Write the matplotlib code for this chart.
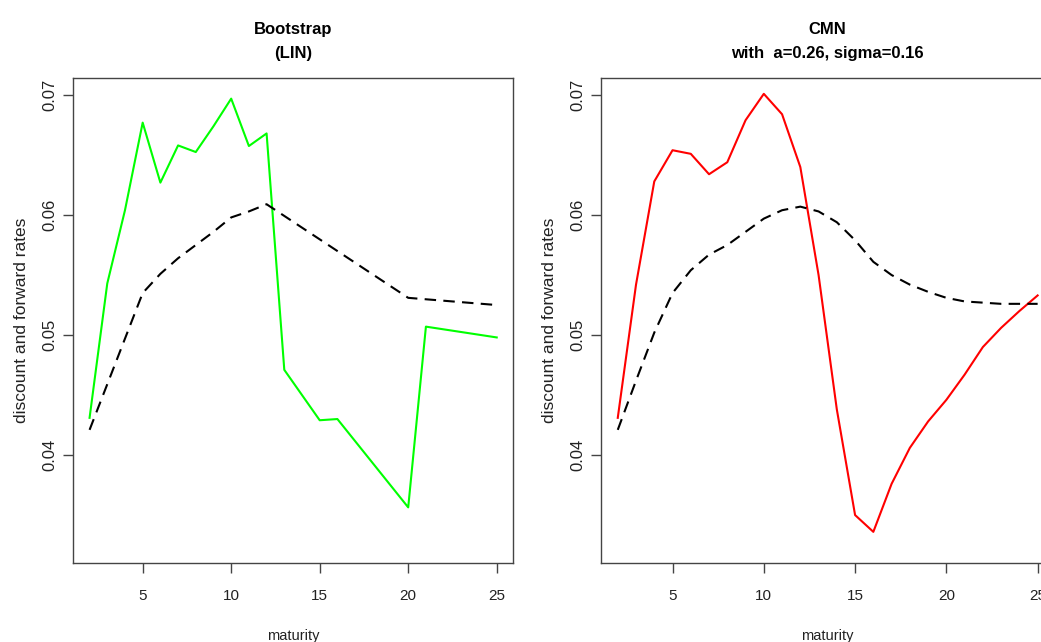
import matplotlib
matplotlib.use("Agg")
from matplotlib import pyplot as plt

plt.rcParams["font.family"] = ["Liberation Sans", "DejaVu Sans"]

# Bootstrap (LIN): forward rates and discount rates by maturity
boot_fwd_x = [2, 3, 4, 5, 6, 7, 8, 9, 10, 11, 12, 13, 15, 16, 20, 21, 25]
boot_fwd_y = [0.0431, 0.0543, 0.0604, 0.0677, 0.0627, 0.0658, 0.06525, 0.0674,
              0.0697, 0.06575, 0.0668, 0.0471, 0.0429, 0.0430, 0.03564, 0.0507, 0.0498]
boot_disc_x = [2, 5, 6, 7, 8, 9, 10, 11, 12, 20, 25]
boot_disc_y = [0.0421, 0.0535, 0.0551, 0.0564, 0.0575, 0.0586, 0.0598, 0.0603,
               0.0609, 0.0531, 0.0525]

# CMN fit (a=0.26, sigma=0.16)
maturity = list(range(2, 26))
cmn_fwd = [0.0431, 0.0542, 0.0628, 0.0654, 0.0651, 0.0634, 0.0644, 0.0679,
           0.0701, 0.0684, 0.0640, 0.0550, 0.0438, 0.0350, 0.0336, 0.0376,
           0.0406, 0.0428, 0.0446, 0.0467, 0.0490, 0.0506, 0.0520, 0.0533]
cmn_disc = [0.0421, 0.0462, 0.0502, 0.0535, 0.0554, 0.0567, 0.0575, 0.0586,
            0.0597, 0.0604, 0.0607, 0.0603, 0.0594, 0.0579, 0.0561, 0.0550,
            0.0542, 0.0536, 0.0531, 0.0528, 0.0527, 0.0526, 0.0526, 0.0526]

x_ticks = [5, 10, 15, 20, 25]
y_ticks = [0.04, 0.05, 0.06, 0.07]
y_tick_labels = ["0.04", "0.05", "0.06", "0.07"]

fig = plt.figure(figsize=(10.41, 6.42), dpi=100)
ax_left = fig.add_axes([0.0704, 0.1226, 0.4224, 0.7563])
ax_right = fig.add_axes([0.5773, 0.1226, 0.4356, 0.7563])

dash = (5.5, 3.5)


def style_axes(ax, title):
    ax.set_xlim(1.08, 25.92)
    ax.set_ylim(0.03098, 0.07144)
    ax.set_xticks(x_ticks)
    ax.set_xticklabels([str(t) for t in x_ticks], fontsize=11)
    ax.set_yticks(y_ticks)
    ax.set_yticklabels(y_tick_labels, rotation=90, va="center", fontsize=12)
    ax.tick_params(axis="both", direction="out", length=7.2, width=1.0,
                   color="#444444", labelcolor="#222222")
    ax.tick_params(axis="x", pad=11)
    ax.tick_params(axis="y", pad=4)
    for s in ax.spines.values():
        s.set_color("#444444")
        s.set_linewidth(1.0)
    ax.set_xlabel("maturity", fontsize=10.5, color="#222222", labelpad=19)
    ax.set_ylabel("discount and forward rates", fontsize=12.5, color="#222222",
                  labelpad=10)
    ax.set_title(title, fontsize=12, fontweight="bold", linespacing=1.75, pad=14)


ax_left.plot(boot_fwd_x, boot_fwd_y, color="#00ff00", linewidth=1.5)
ax_left.plot(boot_disc_x, boot_disc_y, color="black", linewidth=1.5,
             linestyle="--", dashes=dash)
style_axes(ax_left, "Bootstrap\n(LIN)")

ax_right.plot(maturity, cmn_fwd, color="#ff0000", linewidth=1.5)
ax_right.plot(maturity, cmn_disc, color="black", linewidth=1.5,
              linestyle="--", dashes=dash)
style_axes(ax_right, "CMN\nwith  a=0.26, sigma=0.16")

fig.savefig("out.png", dpi=100)
